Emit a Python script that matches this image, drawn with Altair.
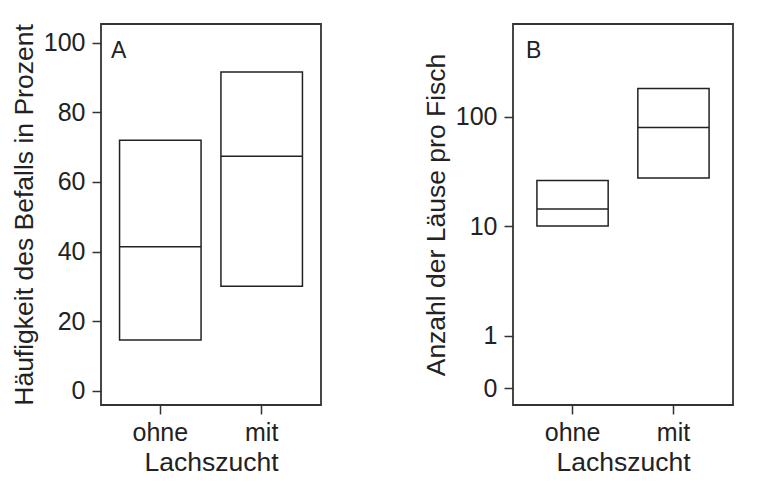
import altair as alt
import pandas as pd

groups = ["ohne", "mit"]

# Panel A: Häufigkeit des Befalls (percent)
a_q1 = [14.6, 30.0]
a_med = [41.4, 67.4]
a_q3 = [72.0, 91.6]
a_ticks = [0, 20, 40, 60, 80, 100]

# Panel B: Anzahl der Läuse pro Fisch (log scale, "0" placed half a decade below 1)
b_q1 = [10.0, 27.4]
b_med = [14.3, 79.4]
b_q3 = [26.1, 180.0]
b_ticks = [0.33, 1, 10, 100]

FONT = "Liberation Sans"
INK = "#222222"

dfA = pd.DataFrame({"g": groups, "lo": a_q1, "med": a_med, "hi": a_q3})
dfB = pd.DataFrame({"g": groups, "lo": b_q1, "med": b_med, "hi": b_q3})


def panel(df, yscale, yaxis, letter, ytitle, pad_in, pad_out, bar_w, letter_x):
    x = alt.X(
        "g:N",
        sort=groups,
        title="Lachszucht",
        scale=alt.Scale(paddingInner=pad_in, paddingOuter=pad_out),
        axis=alt.Axis(labelAngle=0),
    )
    boxes = alt.Chart(df).mark_bar(
        fill="white", fillOpacity=0, stroke=INK, strokeWidth=1.5
    ).encode(
        x=x,
        y=alt.Y("lo:Q", scale=yscale, axis=yaxis, title=ytitle),
        y2="hi:Q",
    )
    med = alt.Chart(df).mark_tick(
        orient="horizontal", size=bar_w, thickness=1.5, color=INK, opacity=1
    ).encode(
        x=x,
        y=alt.Y("med:Q", title=ytitle),
    )
    lab = alt.Chart(pd.DataFrame({"t": [letter]})).mark_text(
        align="left", baseline="alphabetic", fontSize=23, font=FONT, color=INK
    ).encode(x=alt.value(letter_x), y=alt.value(33.5), text="t:N")
    return alt.layer(boxes, med, lab).properties(width=220, height=381)


axisA = alt.Axis(values=a_ticks, format="d")
scaleA = alt.Scale(domain=[-4.1, 105.4], nice=False, zero=False)

axisB = alt.Axis(
    values=b_ticks,
    labelExpr="datum.value < 0.5 ? '0' : format(datum.value, 'd')",
)
scaleB = alt.Scale(type="log", domain=[0.232, 700], nice=False)

left = panel(dfA, scaleA, axisA, "A", "Häufigkeit des Befalls in Prozent",
             0.196, 0.183, 81.5, 10)
right = panel(dfB, scaleB, axisB, "B", "Anzahl der Läuse pro Fisch",
              0.294, 0.237, 71, 13)

chart = alt.hconcat(left, right, spacing=100).properties(
    padding={"left": 2, "top": 14, "right": 5, "bottom": 5}
).configure_view(
    stroke="#333333", strokeWidth=1.8
).configure_axis(
    domain=False,
    grid=False,
    tickColor="#333333",
    tickSize=9,
    tickWidth=1.5,
    labelFont=FONT,
    labelFontSize=25,
    labelColor=INK,
    labelPadding=4,
    titleFont=FONT,
    titleFontSize=26.5,
    titleFontWeight="normal",
    titleColor=INK,
).configure_axisX(
    labelPadding=6,
    titlePadding=4,
).configure_axisY(
    labelPadding=7,
    titlePadding=5,
)

chart.save("out.html", embed_options={"renderer": "svg", "actions": False})
